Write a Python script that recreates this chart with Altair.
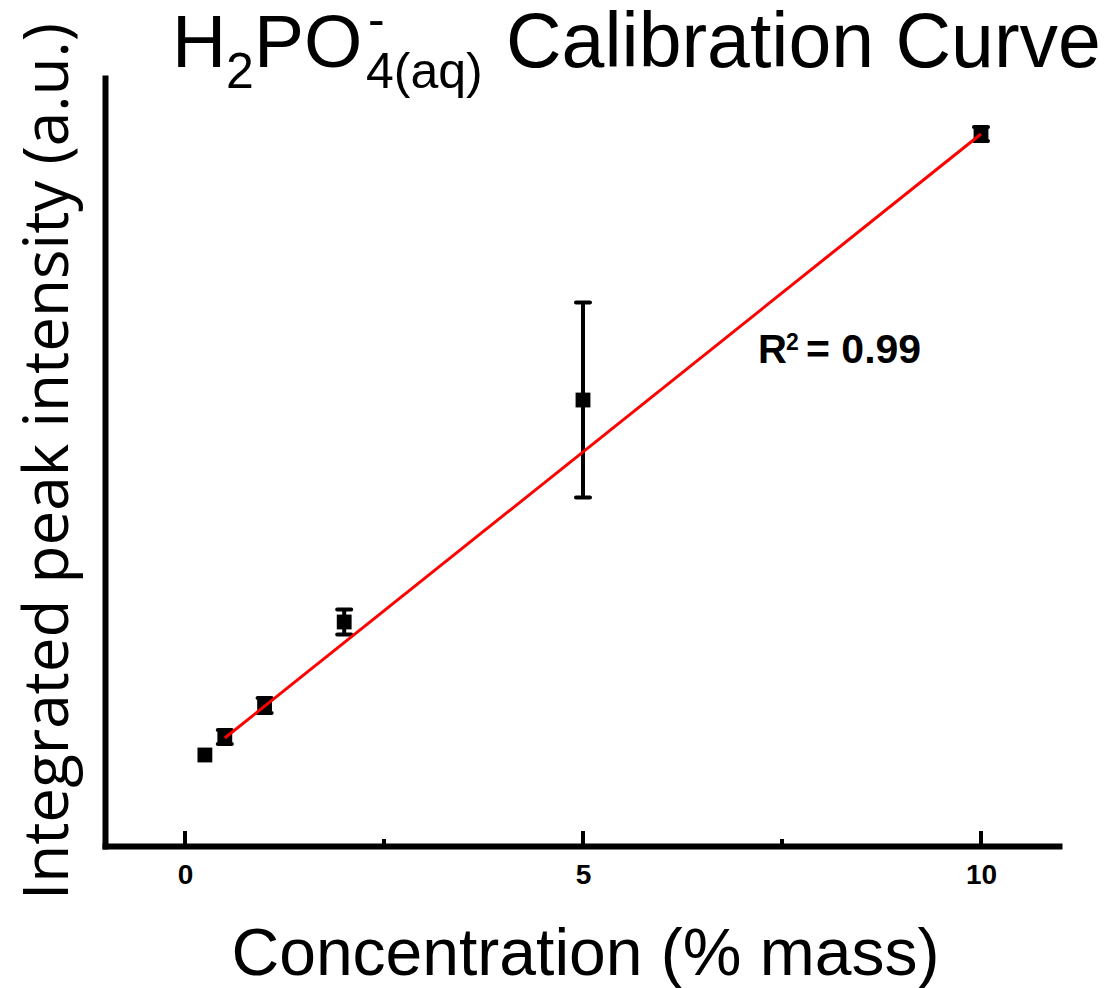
import altair as alt
import pandas as pd

# ---- data ----
conc = [0.25, 0.5, 1, 2, 5, 10]
intensity = [11.85, 14.19, 18.29, 29.17, 58.07, 92.71]
err = [0.0, 0.9, 0.98, 1.63, 12.7, 0.9]

fit_x = [0.5, 10]
fit_y = [14.06, 92.71]

major_ticks = [0, 5, 10]
minor_ticks = [2.5, 7.5]

x_title_text = "Concentration (% mass)"
y_title_text = "Integrated peak intensity (a.u.)"

W, H = 954, 768

df = pd.DataFrame({"conc": conc, "intensity": intensity, "err": err})
df["lo"] = df["intensity"] - df["err"]
df["hi"] = df["intensity"] + df["err"]
edf = df[df["err"] > 0]

fit_df = pd.DataFrame({"conc": fit_x, "intensity": fit_y})
maj_df = pd.DataFrame({"conc": major_ticks})
min_df = pd.DataFrame({"conc": minor_ticks})

xscale = alt.Scale(domain=[-1.005, 10.98], nice=False, zero=False)
yscale = alt.Scale(domain=[0, 100], nice=False, zero=False)

x_axis = alt.Axis(
    values=major_ticks, format="d",
    labelFont="Liberation Sans", labelFontSize=28, labelFontWeight="bold",
    labelColor="black", labelPadding=15,
    ticks=False, grid=False,
    domainColor="black", domainWidth=6, domainCap="square",
    title=x_title_text, titleFont="Liberation Sans", titleFontSize=66,
    titleFontWeight="normal", titleColor="black",
    titleX=480, titleY=128, titleBaseline="alphabetic", titleAlign="center",
)
y_axis = alt.Axis(
    labels=False, ticks=False, grid=False,
    domainColor="black", domainWidth=6, domainCap="square",
    title=y_title_text, titleFont="Open Sans", titleFontSize=62,
    titleFontWeight="normal", titleColor="black", titleAngle=270,
    titleX=-38, titleY=383, titleAlign="center", titleBaseline="alphabetic",
)

X = alt.X("conc:Q", scale=xscale, axis=x_axis)

points = alt.Chart(df).mark_point(
    shape="square", filled=True, size=220, color="black", opacity=1
).encode(
    x=X,
    y=alt.Y("intensity:Q", scale=yscale, axis=y_axis),
)

ebars = alt.Chart(edf).mark_rule(color="black", strokeWidth=4).encode(
    x=X,
    y=alt.Y("lo:Q", scale=yscale, axis=y_axis),
    y2="hi:Q",
)
cap_lo = alt.Chart(edf).mark_tick(
    orient="horizontal", color="black", thickness=4, size=18, opacity=1, cornerRadius=2
).encode(
    x=X,
    y=alt.Y("lo:Q", scale=yscale, axis=y_axis),
)
cap_hi = alt.Chart(edf).mark_tick(
    orient="horizontal", color="black", thickness=4, size=18, opacity=1, cornerRadius=2
).encode(
    x=X,
    y=alt.Y("hi:Q", scale=yscale, axis=y_axis),
)

fit = alt.Chart(fit_df).mark_line(color="#ff0000", strokeWidth=3).encode(
    x=X,
    y=alt.Y("intensity:Q", scale=yscale, axis=y_axis),
)

maj = alt.Chart(maj_df).mark_rule(color="black", strokeWidth=4).encode(
    x=X, y=alt.value(H), y2=alt.value(H - 15),
)
mnr = alt.Chart(min_df).mark_rule(color="black", strokeWidth=4).encode(
    x=X, y=alt.value(H), y2=alt.value(H - 7),
)


def txt(s, x, y, size, weight="normal", font="Liberation Sans"):
    return alt.Chart(pd.DataFrame({"s": [s]})).mark_text(
        align="left", baseline="alphabetic", font=font, fontSize=size,
        fontWeight=weight, color="black",
    ).encode(text="s:N", x=alt.value(x), y=alt.value(y))


title_layers = [
    txt("H", 67, -11, 75),
    txt("2", 121, 10, 50),
    txt("PO", 149, -11, 75),
    txt("-", 263, -42, 50),
    txt("4(aq)", 261, 10, 50),
    txt("Calibration Curve", 401, -11, 77),
]
r2_layers = [
    txt("R", 653, 285, 40, weight="bold"),
    txt("2", 681, 272, 23, weight="bold"),
    txt("= 0.99", 701, 285, 41, weight="bold"),
]

chart = alt.layer(
    points, ebars, cap_lo, cap_hi, maj, mnr, fit, *r2_layers, *title_layers
).properties(
    width=W, height=H,
    autosize=alt.AutoSizeParams(type="none"),
    padding={"left": 97, "top": 70, "right": 45, "bottom": 142},
    background="white",
).configure_view(stroke=None)

chart.save("out.html", embed_options={"renderer": "svg", "actions": False})
